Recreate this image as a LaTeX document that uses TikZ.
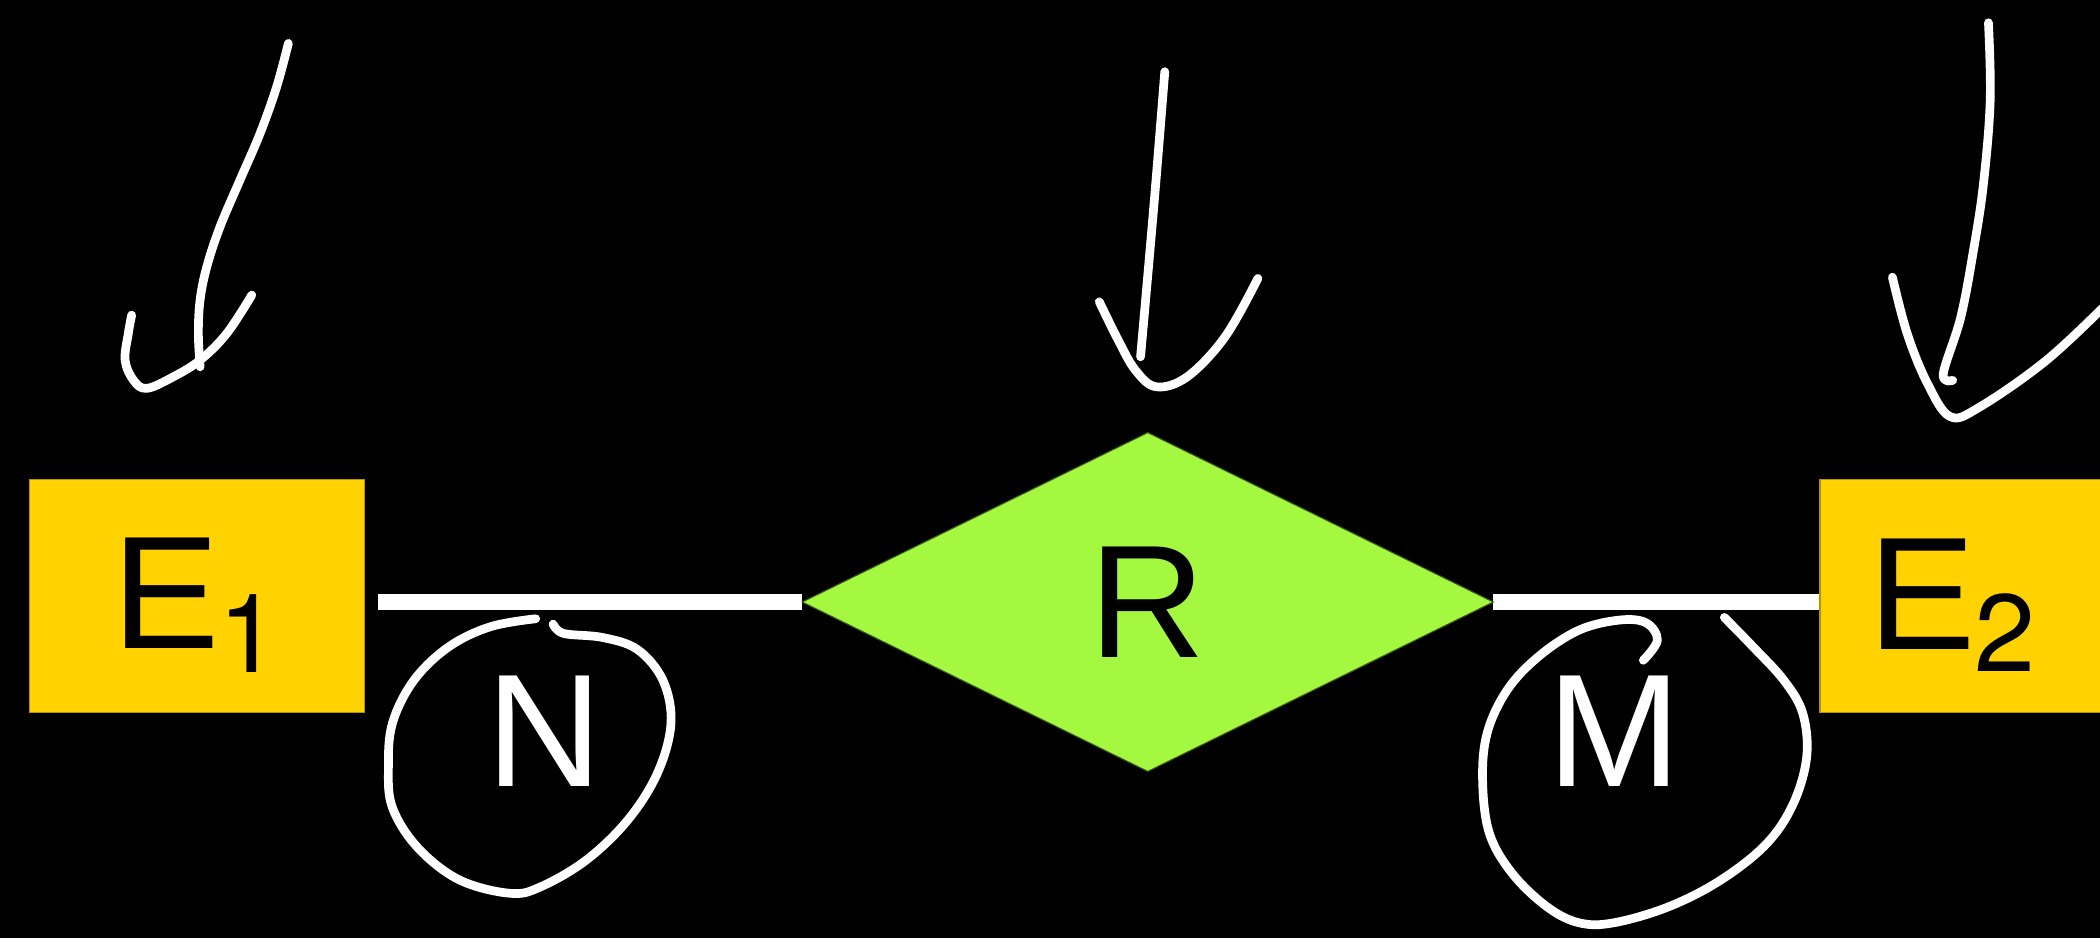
\documentclass[tikz,border=0pt]{standalone}
\usepackage{fontspec}
\setmainfont{Liberation Sans}
\newfontfamily\digitfont{TeX Gyre Heros}
\usetikzlibrary{shapes.geometric}
\pgfdeclarelayer{back}
\pgfsetlayers{back,main}
\definecolor{gold}{HTML}{FFD200}
\definecolor{lime}{HTML}{A4F840}
\newcommand{\bigfont}{\fontsize{120}{120}\selectfont}
\newcommand{\subfont}{\digitfont\fontsize{82}{82}\selectfont}
\begin{document}
\begin{tikzpicture}[x=1pt,y=-1pt,
  entity/.style={rectangle, fill=gold, draw=gold!70!black, line width=1pt, minimum width=250pt, minimum height=174pt, inner sep=0pt, outer sep=0pt},
  relation/.style={diamond, fill=lime, draw=lime!35!black, line width=0.8pt, minimum width=516pt, minimum height=253pt, inner sep=0pt, outer sep=0pt, font=\bigfont},
  lbl/.style={inner sep=0pt, outer sep=0pt, font=\bigfont},
  conn/.style={white, line width=12pt},
  pen/.style={white, line width=6.5pt, line cap=round, line join=round},
]
\begin{pgfonlayer}{back}
\fill[black] (0,0) rectangle (1568,700);
\end{pgfonlayer}
\useasboundingbox (0,0) rectangle (1568,700);

% nodes
\node[entity] (E1) at (147,445) {};
\node[entity, minimum width=260pt] (E2) at (1489,445) {};
\node[relation] (R) at (857,449.5) {R};
\node[lbl, anchor=base west] (e1t) at (84,484.5) {E\kern-1pt\raisebox{-17.4pt}{\subfont 1}};
\node[lbl, anchor=base west] (e2t) at (1395,485) {E\kern-1pt\raisebox{-16.6pt}{\subfont 2}};
\node[lbl, text=white, anchor=base west] (N) at (363.5,587.4) {N};
\node[lbl, text=white, anchor=base west] (M) at (1155.2,587.5) {M};

% connectors
\begin{pgfonlayer}{back}
\draw[conn, shorten <=10pt] (E1.east |- R.west) -- (R.west);
\draw[conn] (R.east) -- (R.east -| E2.west);
\end{pgfonlayer}

% hand-drawn arrows
\draw[pen] plot[smooth, tension=0.6] coordinates {(215.3,32.4) (206.6,64.7) (194.2,99.6) (179.2,134.4) (164.3,169.3) (154.4,199.2) (149.4,224) (148.1,249) (149.4,273.9)};
\draw[pen] plot[smooth, tension=0.6] coordinates {(98.3,235.3) (95.8,249) (93.4,268.9) (99.6,283.8) (109.5,290) (129.5,281.3) (149.4,268.9) (169.3,249) (188,220.3)};

\draw[pen] plot[smooth, tension=0.6] coordinates {(869.7,53.5) (861.9,149.4) (851.6,266.4)};
\draw[pen] plot[smooth, tension=0.6] coordinates {(820.8,225.3) (834.9,253.9) (847.7,276.3) (863.3,288.8) (886.5,281.3) (914.7,251.5) (939.2,207.9)};

\draw[pen] plot[smooth, tension=0.6] coordinates {(1484.7,17) (1486,75) (1481,137) (1473.5,187) (1464,237) (1451,279) (1458,284)};
\draw[pen] plot[smooth, tension=0.6] coordinates {(1413,207) (1424,249) (1439,286) (1456,311) (1478,304) (1528,269) (1575,225)};

% hand-drawn loops
\draw[pen] plot[smooth, tension=0.6] coordinates {(400,462) (366,468) (335,483) (309,508) (293,540) (290,573) (293,603) (312,633) (343,657) (381,667) (404,662) (438,642) (469,612) (491,577) (501,540) (495,508) (476,485) (450,476) (421,473) (413,466)};
\draw[pen] plot[smooth, tension=0.6] coordinates {(1227,493) (1237.5,478) (1229,465) (1209,463) (1179,470.5) (1149,490) (1125.5,515) (1110.5,547) (1107,582.5) (1112,622) (1129,652) (1155,677) (1179,689) (1205,689) (1246,677) (1285,657) (1319,630) (1339,600) (1349,565) (1346,532.5) (1332,508) (1309,483) (1287.5,461)};
\end{tikzpicture}
\end{document}
